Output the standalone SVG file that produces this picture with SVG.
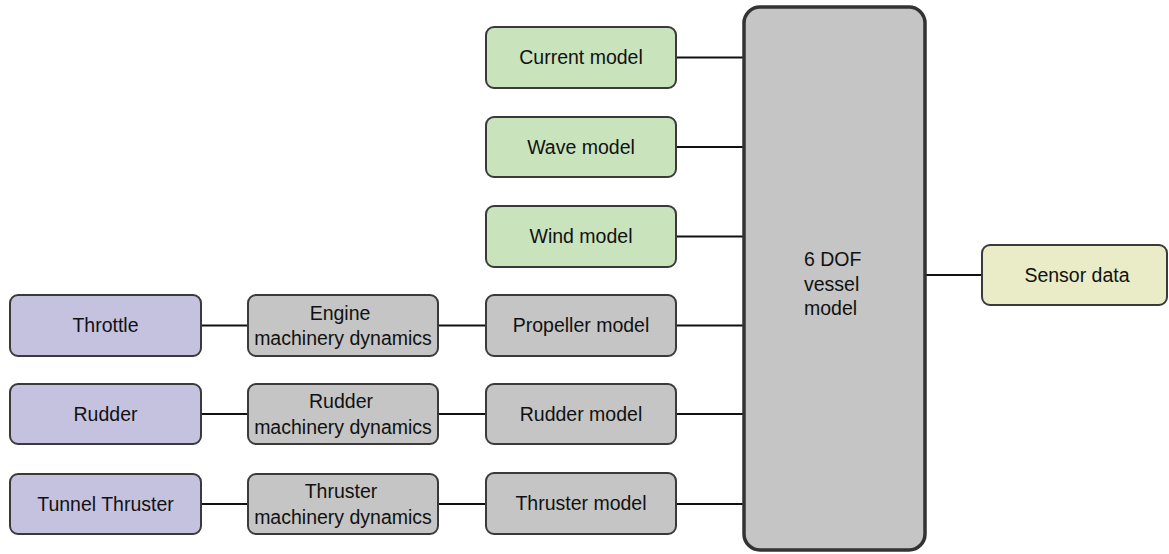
<svg xmlns="http://www.w3.org/2000/svg" width="1169" height="554" viewBox="0 0 1169 554">
  <style>
    .box { stroke: #3a3a3a; stroke-width: 2; }
    .env { fill: #c9e3bc; }
    .cmd { fill: #c5c2df; }
    .mod { fill: #c4c5c4; }
    .out { fill: #e9ecc6; }
    .vessel { fill: #c4c5c4; stroke: #333333; stroke-width: 3.5; }
    text { font-family: "Liberation Sans", Arial, sans-serif; font-size: 19.5px; fill: #111111; text-anchor: middle; }
    .left { text-anchor: start; }
    #connectors line { stroke: #111111; stroke-width: 2; }
  </style>
  <rect width="1169" height="554" fill="#ffffff"/>

  <!-- connectors -->
  <g id="connectors">
    <line x1="676" y1="57.5" x2="744" y2="57.5"/>
    <line x1="676" y1="147" x2="744" y2="147"/>
    <line x1="676" y1="236.5" x2="744" y2="236.5"/>
    <line x1="201" y1="325.5" x2="248" y2="325.5"/>
    <line x1="438" y1="325.5" x2="486" y2="325.5"/>
    <line x1="676" y1="325.5" x2="744" y2="325.5"/>
    <line x1="201" y1="414" x2="248" y2="414"/>
    <line x1="438" y1="414" x2="486" y2="414"/>
    <line x1="676" y1="414" x2="744" y2="414"/>
    <line x1="201" y1="504" x2="248" y2="504"/>
    <line x1="438" y1="504" x2="486" y2="504"/>
    <line x1="676" y1="504" x2="744" y2="504"/>
    <line x1="925" y1="275" x2="982" y2="275"/>
  </g>

  <!-- environment models -->
  <g id="current-model">
    <rect class="box env" x="486" y="27" width="190" height="61" rx="8"/>
    <text x="581" y="64">Current model</text>
  </g>
  <g id="wave-model">
    <rect class="box env" x="486" y="117" width="190" height="60" rx="8"/>
    <text x="581" y="153.5">Wave model</text>
  </g>
  <g id="wind-model">
    <rect class="box env" x="486" y="206" width="190" height="61" rx="8"/>
    <text x="581" y="243">Wind model</text>
  </g>

  <!-- command inputs -->
  <g id="throttle">
    <rect class="box cmd" x="10" y="295" width="191" height="61" rx="8"/>
    <text x="105.5" y="332">Throttle</text>
  </g>
  <g id="rudder">
    <rect class="box cmd" x="10" y="384" width="191" height="60" rx="8"/>
    <text x="105.5" y="420.5">Rudder</text>
  </g>
  <g id="tunnel-thruster">
    <rect class="box cmd" x="10" y="474" width="191" height="60" rx="8"/>
    <text x="105.5" y="510.5">Tunnel Thruster</text>
  </g>

  <!-- machinery dynamics -->
  <g id="engine-dynamics">
    <rect class="box mod" x="248" y="295" width="190" height="61" rx="8"/>
    <text x="340" y="319.5">Engine</text>
    <text x="343" y="345">machinery dynamics</text>
  </g>
  <g id="rudder-dynamics">
    <rect class="box mod" x="248" y="384" width="190" height="60" rx="8"/>
    <text x="341" y="408">Rudder</text>
    <text x="343" y="433.5">machinery dynamics</text>
  </g>
  <g id="thruster-dynamics">
    <rect class="box mod" x="248" y="474" width="190" height="60" rx="8"/>
    <text x="341" y="498">Thruster</text>
    <text x="343" y="523.5">machinery dynamics</text>
  </g>

  <!-- actuator models -->
  <g id="propeller-model">
    <rect class="box mod" x="486" y="295" width="190" height="61" rx="8"/>
    <text x="581" y="332">Propeller model</text>
  </g>
  <g id="rudder-model">
    <rect class="box mod" x="486" y="384" width="190" height="60" rx="8"/>
    <text x="581" y="420.5">Rudder model</text>
  </g>
  <g id="thruster-model">
    <rect class="box mod" x="486" y="473" width="190" height="61" rx="8"/>
    <text x="581" y="510">Thruster model</text>
  </g>

  <!-- vessel model -->
  <g id="vessel-model">
    <rect class="vessel" x="744" y="7" width="181" height="543" rx="16"/>
    <text class="left" x="804" y="266">6 DOF</text>
    <text class="left" x="804" y="290.5">vessel</text>
    <text class="left" x="804" y="315">model</text>
  </g>

  <!-- output -->
  <g id="sensor-data">
    <rect class="box out" x="982" y="245" width="185" height="60" rx="8"/>
    <text x="1077" y="281.5">Sensor data</text>
  </g>
</svg>
